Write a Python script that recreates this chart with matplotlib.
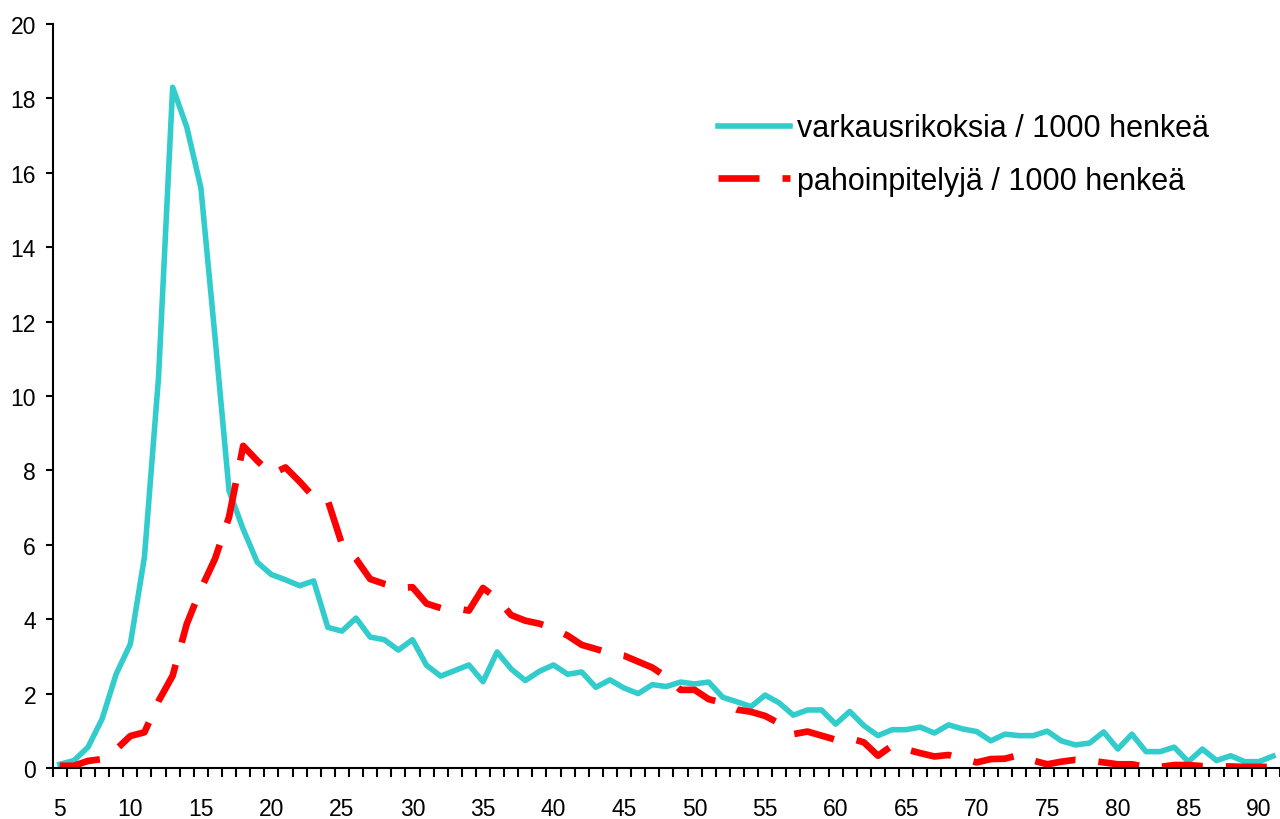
"""Theft and assault offences per 1000 persons by age (Excel-style line chart)."""
import matplotlib
matplotlib.use("Agg")
import matplotlib.pyplot as plt
import numpy as np

plt.rcParams["font.family"] = ["Liberation Sans", "DejaVu Sans"]

ages = list(range(5, 92))

theft = [
    0.10, 0.20, 0.56, 1.32, 2.53, 3.33, 5.67, 10.5, 18.3, 17.23,
    15.6, 11.6, 7.45, 6.42, 5.53, 5.20, 5.06, 4.90, 5.03, 3.78,
    3.68, 4.03, 3.52, 3.45, 3.17, 3.45, 2.76, 2.47, 2.62, 2.77,
    2.32, 3.12, 2.66, 2.35, 2.60, 2.77, 2.52, 2.58, 2.17, 2.37,
    2.15, 2.00, 2.24, 2.19, 2.31, 2.26, 2.31, 1.90, 1.78, 1.65,
    1.96, 1.75, 1.42, 1.56, 1.56, 1.18, 1.52, 1.14, 0.87, 1.03,
    1.03, 1.10, 0.94, 1.16, 1.05, 0.98, 0.73, 0.91, 0.87, 0.87,
    0.99, 0.73, 0.62, 0.67, 0.97, 0.51, 0.91, 0.44, 0.44, 0.56,
    0.17, 0.51, 0.20, 0.33, 0.17, 0.17, 0.32,
]

assault = [
    0.06, 0.06, 0.19, 0.24, 0.50, 0.86, 0.96, 1.80, 2.48, 3.87,
    4.81, 5.62, 6.75, 8.66, 8.26, 7.90, 8.08, 7.70, 7.28, 7.19,
    6.02, 5.62, 5.08, 4.95, 4.84, 4.86, 4.42, 4.30, 4.30, 4.23,
    4.84, 4.55, 4.11, 3.96, 3.88, 3.75, 3.56, 3.31, 3.20, 3.09,
    3.02, 2.86, 2.70, 2.45, 2.10, 2.10, 1.85, 1.75, 1.57, 1.51,
    1.40, 1.20, 0.91, 0.98, 0.87, 0.76, 0.80, 0.69, 0.33, 0.60,
    0.50, 0.40, 0.31, 0.35, 0.25, 0.15, 0.24, 0.25, 0.35, 0.20,
    0.10, 0.17, 0.22, 0.20, 0.15, 0.10, 0.10, 0.03, 0.03, 0.08,
    0.08, 0.05, 0.05, 0.04, 0.03, 0.03, 0.03,
]

label_theft = "varkausrikoksia / 1000 henkeä"
label_assault = "pahoinpitelyjä / 1000 henkeä"

fig = plt.figure(figsize=(12.8, 8.2), dpi=100)
ax = fig.add_axes([0.0412, 0.0622, 0.9588, 0.9073])

ax.plot(ages, theft, color="#33CCCC", lw=4.0, solid_joinstyle="round",
        label=label_theft)
ax.plot(ages, assault, color="#FF0000", lw=4.8, dashes=(6.15, 3.45),
        dash_capstyle="butt", label=label_assault)

ax.set_xlim(4.5, 91.5)
ax.set_ylim(0, 20)
ax.set_yticks(np.arange(0, 21, 2))
ax.set_xticks(np.arange(5, 91, 5))
ax.set_xticks(np.arange(4.5, 92, 1), minor=True)

for side in ("top", "right"):
    ax.spines[side].set_visible(False)
for side in ("left", "bottom"):
    ax.spines[side].set_linewidth(1.5)

ax.tick_params(axis="y", direction="out", length=5, width=1.5,
               labelsize=16.5, pad=7)
ax.tick_params(axis="x", which="major", length=0, labelsize=16.5, pad=21)
ax.tick_params(axis="x", which="minor", direction="out", length=6.5,
               width=1.5)

ax.legend(loc="upper left", bbox_to_anchor=(0.532, 0.8965), frameon=False,
          fontsize=22, handlelength=2.36, handletextpad=0.23,
          labelspacing=0.75, borderaxespad=0)

fig.savefig("out.png", dpi=100)
